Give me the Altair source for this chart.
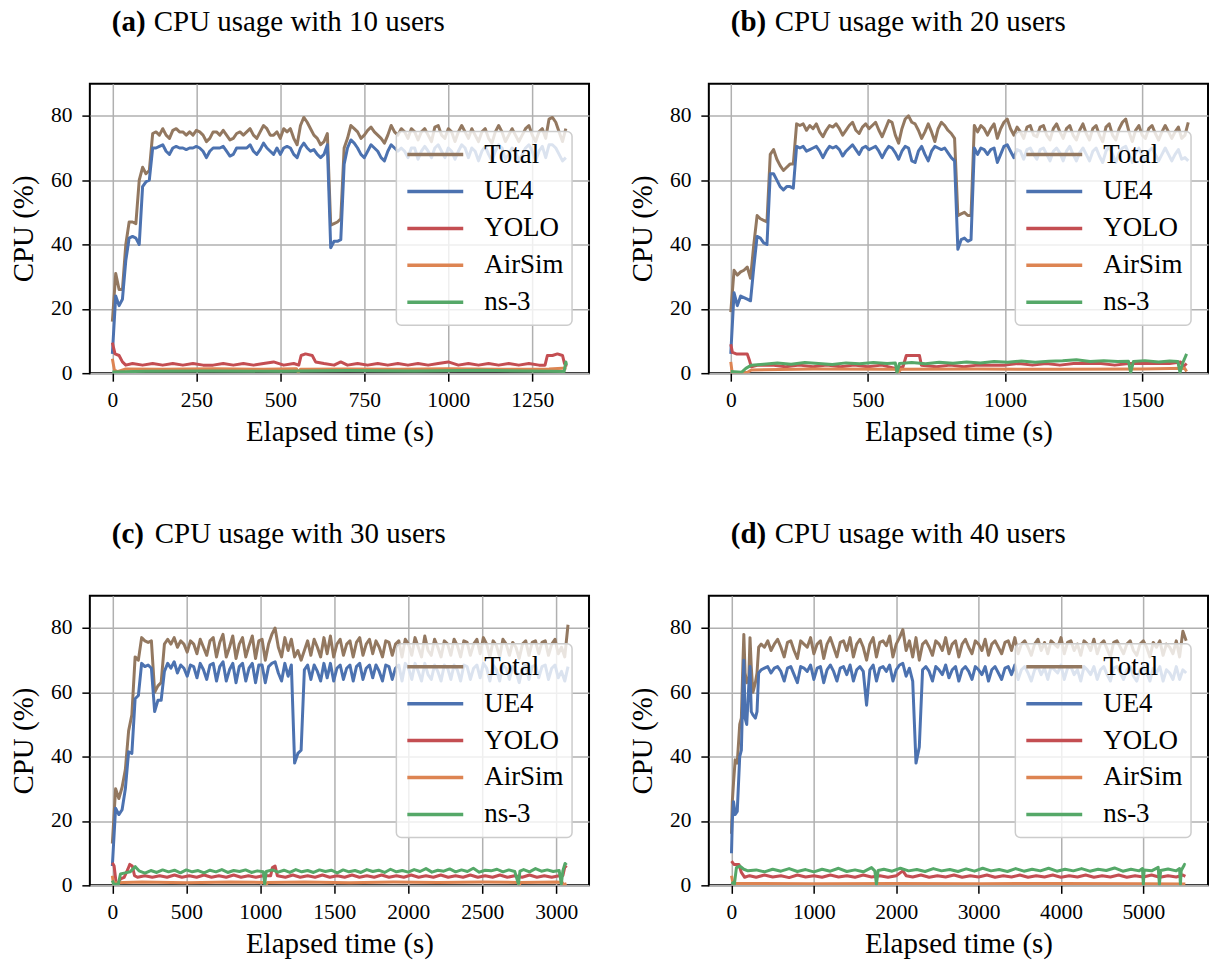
import altair as alt
import pandas as pd

SERIES = ["Total", "UE4", "YOLO", "AirSim", "ns-3"]
COLORS = ["#937860", "#4C72B0", "#C44E52", "#DD8452", "#55A868"]
FONT = "'Liberation Serif', 'Times New Roman', 'DejaVu Serif', serif"

# ---------------- (a) 10 users : Total / UE4 sampled every 10 s ----------------
a_step = 10
a_total = [16, 31, 26, 26, 40, 47, 47, 46.5, 60, 64,
           62, 63, 74.5, 75, 74, 76, 74, 73, 75.5, 76,
           75, 75, 74, 75, 74, 75.5, 75, 74, 72, 73,
           75, 75, 74, 75.5, 74, 72.5, 73, 74.5, 75, 74,
           75, 76, 74, 73, 75, 77, 76, 74, 74, 75,
           73, 76, 75, 76, 73, 71, 77, 79.5, 78, 76,
           74, 73, 71, 72, 74.5, 46, 46.5, 47, 48, 70,
           73, 77, 76, 75, 73, 74, 75.5, 76.5, 75, 74,
           73, 71.5, 74, 77, 75, 74, 76, 75, 73, 76,
           75, 72.5, 75, 76, 74, 72, 76.5, 77, 74, 73,
           76, 75, 72, 75, 77, 75, 73, 76, 74, 72,
           75, 76, 73, 71.5, 75, 77, 75, 72, 74, 76,
           74, 72, 74, 76, 77, 74, 72, 75, 76, 73,
           79, 79.5, 78, 75, 72, 76]
a_ue4 = [6, 24, 21, 23, 35, 42, 42.5, 42, 40, 58,
         59.5, 60, 70, 70, 70.5, 71, 69, 68, 70, 70.5,
         70, 70, 69.5, 70, 70, 70.5, 70, 69, 67, 69,
         70, 70, 70, 70.5, 69, 67.5, 68, 70, 70, 70,
         70, 71, 69, 68, 69.5, 71.5, 70, 69, 68, 70,
         68, 70, 70.5, 70, 68, 67, 70, 71.5, 70, 69,
         69.5, 68, 67, 68, 71, 39, 41, 41, 41.5, 65,
         70, 72.5, 71.5, 70, 68, 67, 69, 71, 70, 69,
         67, 66, 69, 71, 70, 69, 70, 69, 67, 70,
         70, 66.5, 69, 70.5, 69, 67, 70, 71, 69, 67,
         70, 69, 66.5, 69, 71, 70, 67, 70, 69, 66,
         69, 70.5, 68, 66, 69, 71, 70, 66.5, 68, 70,
         69, 66, 68, 70, 71, 69, 66, 69, 70.5, 67,
         71, 71, 70, 68, 66, 67]
a_yolo_t = [0, 8, 20, 30, 40, 60, 90, 120, 150, 180, 210, 240, 270, 300, 330, 360, 390, 420, 450, 480,
            510, 540, 555, 562, 575, 595, 605, 630, 660, 680, 700, 730, 760, 790, 820, 850, 880, 910, 940, 970,
            1000, 1030, 1060, 1090, 1120, 1150, 1180, 1210, 1240, 1270, 1288, 1295, 1310, 1325, 1340, 1346, 1352]
a_yolo_v = [9.5, 6, 5.5, 3.5, 2.5, 3, 2.5, 3, 2.5, 3, 2.5, 3, 2.5, 2.5, 3, 2.5, 3, 2.5, 3, 3.5,
            2.5, 3, 2.5, 5.5, 6, 5.5, 3.5, 3, 2.5, 3.5, 2.5, 3, 2.5, 3, 2.5, 3, 2.5, 3, 2.5, 3,
            3.5, 2.5, 3, 2.5, 3, 2.5, 3, 2.5, 3, 2.5, 2.5, 5.5, 5.5, 6, 5.5, 3, 2]
a_air_t = [0, 6, 15, 40, 150, 300, 450, 548, 553, 560, 700, 850, 1000, 1150, 1300, 1352]
a_air_v = [4.5, 1, 0.5, 1.3, 1.2, 1.4, 1.2, 1.4, 0.3, 1.2, 1.3, 1.2, 1.4, 1.2, 1.3, 1.6]
a_ns3_t = [0, 100, 300, 500, 700, 900, 1100, 1300, 1345, 1350, 1352]
a_ns3_v = [0.4, 0.6, 0.7, 0.6, 0.8, 0.7, 0.9, 0.6, 0.5, 3.5, 2.5]

# ---------------- (b) 20 users : Total / UE4 sampled every 12 s ----------------
b_step = 12
b_total = [19, 32, 30.5, 31.5, 32, 33, 29.5, 40, 49, 48,
           47.5, 47, 68, 69.5, 66.5, 64.5, 63, 64, 65, 65,
           77.5, 77, 77.5, 75.5, 77, 76, 77.5, 75, 73.5, 75.5,
           77, 76.5, 77.5, 76, 74, 75.5, 77, 78, 75.5, 74.5,
           76.5, 77.5, 76, 77, 78, 75.5, 73.5, 76, 78.5, 78,
           74, 71.5, 76, 79, 80, 78, 77.5, 75.5, 73, 75,
           77.5, 75, 72, 76, 78, 77, 75.5, 74.5, 73, 49,
           49.5, 50, 49, 49, 77, 75, 77, 76, 74, 76,
           77.5, 73, 76, 78, 79, 76, 74, 76.5, 75, 73,
           76.5, 77, 74, 73.5, 76.5, 77, 74, 72.5, 76, 77.5,
           75, 73, 76, 77, 74, 72.5, 75.5, 77.5, 74.5, 72.5,
           76, 77, 74, 72, 76.5, 77.5, 74, 72.5, 76, 78,
           79, 75, 72, 75.5, 77, 74, 73, 76, 77, 74.5,
           72.5, 75, 77, 75, 73, 75, 76.5, 73, 74, 78]
b_ue4 = [6, 25, 21, 24, 23.5, 23, 22.5, 33, 42.5, 42,
         40.5, 40, 62, 62, 60, 58, 57, 58, 58, 57.5,
         70.5, 70, 70.5, 69, 69.5, 70, 70.5, 69, 67, 69,
         70.5, 70, 70.5, 69.5, 67.5, 69, 70, 71, 69.5, 68,
         70, 70.5, 69.5, 70, 70.5, 69, 67, 69, 70.5, 70,
         68.5, 66.5, 69, 70.5, 70, 66, 65.5, 69, 70.5, 68,
         66, 69, 70.5, 70, 69.5, 70, 68.5, 67, 66, 38.5,
         41.5, 42, 41, 41.5, 70, 68, 70, 69.5, 68, 69.5,
         70, 65.5, 68, 70.5, 71, 69, 67, 69.5, 69, 66.5,
         69.5, 70, 68, 66.5, 69.5, 70, 68, 66, 69, 70,
         68.5, 66, 69, 70.5, 68, 66, 68.5, 70, 68, 66,
         69, 70, 67.5, 65.5, 69, 70.5, 68, 65.5, 68.5, 70,
         70.5, 68, 65.5, 68.5, 70, 67.5, 66, 69, 70, 68,
         66, 68, 70, 68, 66, 68, 69.5, 66.5, 67, 66]
b_yolo_t = [0, 6, 20, 40, 60, 68, 75, 100, 150, 200, 250, 300, 350, 400, 450, 500, 550, 600, 628, 640,
            660, 688, 695, 750, 800, 850, 900, 950, 1000, 1050, 1100, 1150, 1200, 1250, 1300, 1350, 1400,
            1450, 1500, 1550, 1600, 1640, 1650, 1662]
b_yolo_v = [9, 6.5, 6, 6, 6, 4, 2, 2.5, 2.5, 2, 2.5, 2, 2.5, 2, 2.5, 2, 2.5, 1.5, 2, 5.5,
            5.5, 5.5, 2.5, 2, 2.5, 2, 2.5, 2.5, 2.5, 3, 2.5, 3, 2.5, 3, 3, 3, 2.5,
            3, 3, 3, 3, 3.5, 2, 3]
b_air_t = [0, 5, 60, 75, 300, 600, 610, 620, 900, 1200, 1500, 1655, 1662]
b_air_v = [3.5, 0.2, 0.2, 1, 1.3, 1.2, 0.2, 1.2, 1.3, 1.2, 1.3, 1.5, 0.5]
b_ns3_t = [0, 40, 55, 75, 120, 170, 220, 270, 320, 370, 420, 470, 520, 570, 600, 606, 615, 660, 710, 760,
           810, 860, 910, 960, 1010, 1060, 1110, 1160, 1210, 1260, 1310, 1360, 1410, 1450, 1458, 1468, 1510,
           1560, 1600, 1630, 1638, 1648, 1662]
b_ns3_v = [0.5, 0.3, 1.5, 2.5, 2.8, 3.2, 2.8, 3.3, 3, 2.7, 3.2, 2.9, 3.3, 3, 3.2, 0.2, 3, 3.3, 2.9, 3.4,
           3.1, 3.5, 3.2, 3.6, 3.4, 3.8, 3.4, 3.7, 3.9, 4.2, 3.6, 3.9, 3.6, 3.7, 0.2, 3.6, 3.9,
           3.5, 3.8, 3.6, 0.2, 3.2, 6]

# ---------------- (c) 30 users : Total / UE4 sampled every 22 s ----------------
c_step = 22
c_total = [13, 30, 27, 30.5, 36, 48, 53, 71, 70, 77,
           76, 75.5, 76, 60, 62, 63, 75, 76.5, 75, 77,
           74, 76, 75, 72.5, 76, 75, 72, 76.5, 74, 71.5,
           76, 77, 71, 75.5, 78, 71, 74, 77.5, 70.5, 75,
           77, 71, 74.5, 77.5, 70.5, 76, 76.5, 70, 75, 78,
           80, 74, 71, 77, 73, 76.5, 71, 73, 70, 73,
           76, 71.5, 76.5, 74, 71, 77, 72, 77.5, 71, 75,
           76.5, 71.5, 75, 76, 71, 75.5, 77, 71.5, 75, 76.5,
           72, 76, 74, 71, 76, 75.5, 71.5, 75, 76, 71,
           76.5, 75, 71.5, 77, 74, 71, 77.5, 73, 71.5, 76.5,
           74, 71, 76, 75, 71.5, 76.5, 74.5, 71, 76, 75.5,
           71.5, 75, 76.5, 72, 77, 75, 71, 76, 74.5, 71,
           76.5, 75, 71.5, 75.5, 74, 70.5, 75, 76, 71.5, 75.5,
           76, 72, 75.5, 76, 71.5, 75, 76.5, 72, 74, 71,
           81]
c_ue4 = [6, 24, 22, 23.5, 30, 41.5, 41, 58, 59, 69,
         68, 68.5, 67.5, 54, 57.5, 57.5, 66.5, 69, 67.5, 69.5,
         66, 68.5, 67.5, 65, 68.5, 68, 64.5, 69, 67, 64,
         68.5, 69, 63.5, 68, 69.5, 63.5, 67, 69, 63, 68,
         69, 63.5, 67.5, 69, 63, 68.5, 68.5, 63, 68, 69,
         69.5, 66, 63.5, 69, 65, 68.5, 38, 41, 42, 67,
         68.5, 64, 68.5, 66.5, 63.5, 69, 64.5, 69, 63.5, 67.5,
         68.5, 64, 67.5, 68.5, 63.5, 68, 69, 64, 67.5, 68.5,
         64.5, 68.5, 66.5, 63.5, 68.5, 68, 64, 67.5, 68.5, 63.5,
         69, 67.5, 64, 69, 66.5, 63.5, 69, 65.5, 64, 68.5,
         66.5, 63.5, 68.5, 67.5, 64, 68.5, 67, 63.5, 68.5, 68,
         64, 67.5, 68.5, 64.5, 69, 67.5, 63.5, 68.5, 67, 63.5,
         68.5, 67.5, 64, 68, 66.5, 63, 67.5, 68.5, 64, 68,
         68.5, 64.5, 68, 68.5, 64, 67.5, 68.5, 64.5, 66.5, 63.5,
         68]
c_yolo_t = [0, 12, 25, 40, 55, 80, 105, 118, 135, 150, 170, 220, 270, 320, 370, 420, 470, 520, 570, 620,
            670, 720, 770, 820, 870, 920, 970, 1020, 1070, 1082, 1100, 1115, 1170, 1220, 1270, 1320, 1370,
            1420, 1470, 1520, 1570, 1620, 1670, 1720, 1770, 1820, 1870, 1920, 1970, 2020, 2070, 2120, 2170,
            2220, 2270, 2320, 2370, 2420, 2470, 2520, 2570, 2620, 2670, 2720, 2770, 2820, 2870, 2920, 2970,
            3020, 3045, 3060, 3070]
c_yolo_v = [7, 6, 1, 0.5, 2, 2.5, 5, 6.5, 6, 3, 2.5, 3, 2.5, 3, 2.5, 3.2, 2.5, 3, 2.5, 3.2,
            2.5, 3, 2.5, 3.2, 2.5, 3, 2.5, 3, 3, 5.5, 6, 3, 2.5, 3.2, 2.5, 3, 2.5,
            3.2, 2.5, 3, 2.5, 3.2, 2.5, 3, 2.5, 3.2, 2.5, 3, 2.5, 3.2, 2.5, 3, 2.5,
            3.2, 2.5, 3, 2.5, 3.2, 2.5, 3, 2.5, 3.2, 2.5, 3, 2.5, 3.2, 2.5, 3, 2.5,
            3, 3, 6, 5.5]
c_air_t = [0, 8, 20, 200, 500, 800, 1030, 1040, 1050, 1300, 1600, 1900, 2200, 2500, 2740, 2750, 2760,
           3000, 3040, 3050, 3070]
c_air_v = [3, 0.5, 0.8, 1, 0.8, 1, 0.9, 0.2, 0.9, 1, 0.8, 1, 0.9, 1, 0.9, 0.2, 0.9,
           1, 0.9, 0.2, 0.5]
c_ns3_t = [0, 10, 40, 55, 80, 120, 155, 180, 220, 260, 300, 340, 380, 420, 460, 500, 540, 580, 620, 660,
           700, 740, 780, 820, 860, 900, 940, 980, 1020, 1030, 1040, 1080, 1120, 1160, 1200, 1240, 1280,
           1320, 1360, 1400, 1440, 1480, 1520, 1560, 1600, 1640, 1680, 1720, 1760, 1800, 1840, 1880,
           1920, 1960, 2000, 2040, 2080, 2120, 2160, 2200, 2240, 2280, 2320, 2360, 2400, 2440, 2480,
           2520, 2560, 2600, 2640, 2680, 2720, 2745, 2755, 2780, 2820, 2860, 2900, 2940, 2980, 3020,
           3035, 3045, 3060, 3070]
c_ns3_v = [1.5, 0.3, 0.3, 3.5, 3.8, 4.2, 5.8, 4.5, 3.8, 4.6, 4, 4.8, 4.2, 4.7, 3.9, 4.8, 4.2, 4.6, 3.9, 4.7,
           4.2, 4.9, 4, 4.6, 4.3, 4.8, 4, 4.5, 4.2, 0.4, 4.3, 4.8, 4.1, 4.7, 4, 4.9, 4.2,
           4.6, 4, 4.8, 4.3, 4.7, 3.9, 4.8, 4.2, 4.6, 4, 4.9, 4.3, 4.7, 4, 5,
           4.2, 4.6, 4.1, 4.9, 4.3, 5.2, 4.1, 4.7, 4.4, 5.1, 4.2, 4.8, 4.3, 5.3, 4.1,
           4.7, 4.5, 5, 4.2, 4.8, 4.3, 0.4, 4.4, 4.9, 4.2, 5.2, 4.4, 4.8, 4.3, 4.6,
           0.4, 4.5, 6.8, 6.3]

# ---------------- (d) 40 users : ramp-up read point by point, then every 40 s ----------------
d_ramp_t = [0, 10, 25, 45, 70, 100, 120, 140, 150, 165, 185, 210, 225, 240, 260, 290, 310, 330]
d_ramp_total = [16, 26, 32, 39, 38, 50, 52, 70, 78, 66, 63, 64, 77, 68, 60, 63, 66, 74]
d_ramp_ue4 = [10, 20, 26, 22, 23, 40, 42, 62, 70, 52, 50, 62, 68, 54, 53, 52, 54, 66]
d_start = 360
d_step = 40
d_total = [75,
           74, 76, 73, 75, 76.5, 74, 71, 75.5, 76, 73,
           70.5, 76, 75, 74, 77, 72, 75, 76, 70.5, 75,
           77, 74, 71, 75.5, 76, 73, 77, 71, 75, 76.5,
           74, 70, 75, 77, 71, 75.5, 76, 74.5, 77.5, 71,
           75, 77, 79.5, 73, 76, 71, 77, 70, 75, 76,
           74, 71.5, 76, 75, 73, 77, 72, 75, 76, 71,
           75, 76.5, 74, 72, 76, 75, 73, 76.5, 71.5, 75,
           76, 74, 72, 75.5, 76, 73, 77, 72, 75, 76,
           74, 71.5, 75, 76.5, 73, 75.5, 72, 76, 75, 74,
           77, 72, 75.5, 76, 73, 75, 71.5, 76, 75, 73,
           76.5, 72, 75, 76, 73.5, 71, 75.5, 76, 74, 72,
           75, 76, 73, 71.5, 75, 76, 74, 71, 75.5, 74,
           76, 71.5, 75, 74, 72, 76, 71, 79, 76]
d_ue4 = [67,
         67.5, 68, 66, 67.5, 68, 66.5, 63.5, 67.5, 68, 65.5,
         63, 68, 67.5, 66.5, 68.5, 64, 67.5, 68, 63, 67,
         68.5, 66.5, 63.5, 67.5, 68, 65.5, 68.5, 63.5, 67, 68,
         66.5, 56, 67, 68.5, 63.5, 67.5, 68, 66.5, 68.5, 63.5,
         67, 68.5, 69, 65, 67.5, 63.5, 38, 43, 67, 68,
         66.5, 63.5, 68, 67, 65.5, 68.5, 64.5, 67, 68, 63.5,
         67, 68, 66.5, 64, 68, 67, 65.5, 68, 63.5, 67,
         68, 66, 64, 67.5, 68, 65.5, 68.5, 64, 67, 68,
         66, 63.5, 67, 68, 65.5, 67.5, 64, 68, 67, 66,
         68.5, 64, 67.5, 68, 65.5, 67, 63.5, 68, 67, 65.5,
         68, 64, 67, 68, 65.5, 63.5, 67.5, 68, 66, 64,
         67, 68, 65, 63.5, 67, 68, 66, 63.5, 67.5, 66,
         68, 63.5, 67, 66, 64, 68, 64, 67, 66]
d_yolo_t = [0, 30, 90, 120, 160, 220, 300, 400, 500, 600, 700, 800, 900, 1000, 1100, 1200, 1300, 1400,
            1500, 1600, 1700, 1800, 1900, 2000, 2080, 2120, 2200, 2300, 2400, 2500, 2600, 2700, 2800,
            2900, 3000, 3100, 3200, 3300, 3400, 3500, 3600, 3700, 3800, 3900, 4000, 4100, 4200, 4300,
            4400, 4500, 4600, 4700, 4800, 4900, 5000, 5100, 5200, 5300, 5400, 5480, 5510]
d_yolo_v = [7.5, 6.5, 6.5, 4, 2.5, 3, 2.5, 3.2, 2.6, 3, 2.4, 3.2, 2.6, 3, 2.5, 3.2, 2.6, 3,
            2.5, 3.2, 2.6, 3, 2.5, 3, 4.5, 3, 2.6, 3.2, 2.5, 3, 2.6, 3.2, 2.5,
            3, 2.6, 3.2, 2.5, 3, 2.6, 3.2, 2.5, 3, 2.6, 3.2, 2.5, 3, 2.6, 3.2,
            2.5, 3, 2.6, 3.2, 2.5, 3, 2.6, 3.2, 2.5, 3, 2.6, 3.2, 2.8]
d_air_t = [0, 20, 60, 1000, 2000, 3000, 4000, 5000, 5510]
d_air_v = [3, 0.5, 0.6, 0.5, 0.6, 0.5, 0.6, 0.5, 0.4]
d_ns3_t = [0, 35, 60, 100, 150, 200, 300, 400, 500, 600, 700, 800, 900, 1000, 1100, 1200, 1300, 1400,
           1500, 1600, 1700, 1740, 1760, 1780, 1850, 1950, 2050, 2150, 2250, 2350, 2450, 2550, 2650,
           2750, 2850, 2950, 3050, 3150, 3250, 3350, 3450, 3550, 3650, 3750, 3850, 3950, 4050, 4150,
           4250, 4350, 4450, 4550, 4650, 4750, 4850, 4950, 4990, 5000, 5010, 5100, 5180, 5195, 5210,
           5300, 5400, 5440, 5450, 5460, 5500, 5510]
d_ns3_v = [1, 0.3, 5.5, 6, 5, 4.5, 4.8, 4.2, 5, 4.4, 5.2, 4.3, 4.9, 4.2, 5, 4.4, 5.3, 4.3,
           4.8, 4.2, 5.5, 4.5, 0.3, 4.6, 5, 4.4, 5.3, 4.5, 4.9, 4.3, 5.2, 4.5, 4.9,
           4.3, 5.1, 4.4, 5.3, 4.5, 4.9, 4.3, 5.2, 4.4, 5, 4.5, 5.3, 4.4, 5, 4.5,
           5.2, 4.4, 5, 4.6, 5.4, 4.4, 5, 4.5, 5.2, 0.3, 4.8, 4.5, 5.6, 0.3, 4.6,
           5.1, 4.5, 5.2, 0.3, 4.6, 6.5, 6.3]

# axis extents and tick labels
a_xdomain, a_xticks = [-67, 1419], [0, 250, 500, 750, 1000, 1250]
b_xdomain, b_xticks = [-80, 1740], [0, 500, 1000, 1500]
c_xdomain, c_xticks = [-152, 3222], [0, 500, 1000, 1500, 2000, 2500, 3000]
d_xdomain, d_xticks = [-275, 5785], [0, 1000, 2000, 3000, 4000, 5000]
y_ticks = [0, 20, 40, 60, 80]


def make_df(step, total, ue4, yolo_t, yolo_v, air_t, air_v, ns_t, ns_v,
            start=0, ramp_t=(), ramp_total=(), ramp_ue4=()):
    rows = []
    for t, v in zip(ramp_t, ramp_total):
        rows.append({"series": "Total", "t": t, "cpu": v})
    for i, v in enumerate(total):
        rows.append({"series": "Total", "t": start + step * i, "cpu": v})
    for t, v in zip(ramp_t, ramp_ue4):
        rows.append({"series": "UE4", "t": t, "cpu": v})
    for i, v in enumerate(ue4):
        rows.append({"series": "UE4", "t": start + step * i, "cpu": v})
    for name, ts, vs in (("YOLO", yolo_t, yolo_v), ("AirSim", air_t, air_v), ("ns-3", ns_t, ns_v)):
        for t, v in zip(ts, vs):
            rows.append({"series": name, "t": t, "cpu": v})
    return pd.DataFrame(rows)


def panel(df, letter, caption, xdomain, xticks, cap_x):
    color = alt.Color("series:N", scale=alt.Scale(domain=SERIES, range=COLORS),
                      legend=alt.Legend(title=None))
    x = alt.X("t:Q", scale=alt.Scale(domain=xdomain, nice=False, zero=False),
              axis=alt.Axis(values=xticks, format="d", title="Elapsed time (s)", labelOverlap=False))
    y = alt.Y("cpu:Q", scale=alt.Scale(domain=[0, 90], nice=False),
              axis=alt.Axis(values=y_ticks, title="CPU (%)"))
    base = alt.Chart(df)
    layers = [
        base.transform_filter(alt.datum.series == s)
        .mark_line(strokeWidth=3, strokeJoin="round", clip=True)
        .encode(x=x, y=y, color=color)
        for s in SERIES
    ]
    tag = alt.Chart(pd.DataFrame({"s": [f"({letter})"]})).mark_text(
        font=FONT, fontSize=29, fontWeight="bold", align="left", baseline="alphabetic", color="black"
    ).encode(text="s:N", x=alt.value(22), y=alt.value(-53))
    cap = alt.Chart(pd.DataFrame({"s": [caption]})).mark_text(
        font=FONT, fontSize=29, align="left", baseline="alphabetic", color="black"
    ).encode(text="s:N", x=alt.value(cap_x), y=alt.value(-53))
    return alt.layer(*layers, tag, cap).properties(width=500, height=290)


pa = panel(make_df(a_step, a_total, a_ue4, a_yolo_t, a_yolo_v, a_air_t, a_air_v, a_ns3_t, a_ns3_v),
           "a", "CPU usage with 10 users", a_xdomain, a_xticks, 64)
pb = panel(make_df(b_step, b_total, b_ue4, b_yolo_t, b_yolo_v, b_air_t, b_air_v, b_ns3_t, b_ns3_v),
           "b", "CPU usage with 20 users", b_xdomain, b_xticks, 66)
pc = panel(make_df(c_step, c_total, c_ue4, c_yolo_t, c_yolo_v, c_air_t, c_air_v, c_ns3_t, c_ns3_v),
           "c", "CPU usage with 30 users", c_xdomain, c_xticks, 65)
pdd = panel(make_df(d_step, d_total, d_ue4, d_yolo_t, d_yolo_v, d_air_t, d_air_v, d_ns3_t, d_ns3_v,
                    start=d_start, ramp_t=d_ramp_t, ramp_total=d_ramp_total, ramp_ue4=d_ramp_ue4),
            "d", "CPU usage with 40 users", d_xdomain, d_xticks, 66)

chart = (
    alt.concat(pa, pb, pc, pdd, columns=2, spacing={"row": 71, "column": 37})
    .resolve_scale(color="independent")
    .properties(padding={"left": 8, "top": 6, "right": 2, "bottom": 2}, background="white")
    .configure_view(stroke="black", strokeWidth=2)
    .configure_axis(domain=False, grid=True, gridColor="#b0b0b0", gridWidth=1.5, gridOpacity=1,
                    ticks=True, tickColor="black", tickSize=8, tickWidth=1.5,
                    labelFont=FONT, labelFontSize=21.5, labelColor="black",
                    titleFont=FONT, titleFontSize=29, titleFontWeight="normal", titleColor="black")
    .configure_axisX(labelPadding=8, titlePadding=7)
    .configure_axisY(labelPadding=10, titlePadding=12)
    .configure_legend(orient="none", legendX=307, legendY=48,
                      fillColor="rgba(255,255,255,0.8)", strokeColor="#cccccc", strokeWidth=1.5,
                      cornerRadius=5, padding=8, symbolType="stroke", symbolSize=3136,
                      symbolStrokeWidth=3.5, symbolOffset=1, labelOffset=19, clipHeight=30,
                      rowPadding=7, labelFont=FONT, labelFontSize=27, labelColor="black",
                      labelLimit=300)
)

chart.save("out.html", embed_options={"renderer": "svg", "actions": False})
